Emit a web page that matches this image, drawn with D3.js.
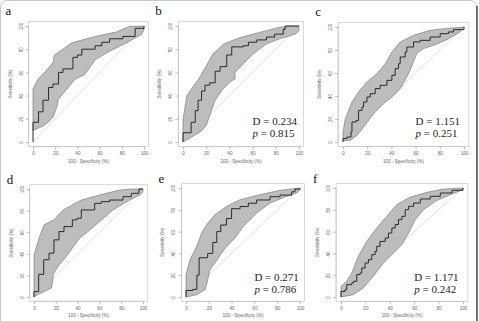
<!DOCTYPE html>
<html><head><meta charset="utf-8">
<script src="https://cdn.jsdelivr.net/npm/d3@7"></script>
<style>body{margin:0;background:#fff}svg{display:block}</style>
</head><body><svg id="c" width="479" height="321"></svg>
<script>
// ---- data (percent) ----
const panelLabels = ["a","b","c","d","e","f"];
const statD = [null, "0.234", "1.151", null, "0.271", "1.171"];
const statP = [null, "0.815", "0.251", null, "0.786", "0.242"];
const tickValues = [0, 20, 40, 60, 80, 100];
const xAxisTitle = "100 - Specificity (%)";
const yAxisTitle = "Sensitivity (%)";

const rocA = [[0,0],[0,17],[5,26],[9,36],[14,47],[18,50],[23,60],[27,63],[36,73],[40,75],[44,80],[56,83],[62,86],[69,89],[81,91],[92,98],[100,100]];
const upA = [[0,46],[4.8,54.6],[12.3,61.8],[18.3,69],[19,74.7],[25.5,79],[34.5,85.3],[48,89],[60,91.9],[75,94.8],[87,99.7],[100,100]];
const loA = [[0,10],[9.3,13.8],[13.8,17.2],[18.3,21.8],[21.9,31.6],[22.8,36.8],[30.3,45.4],[37.8,54],[46.8,58.3],[55.9,70.7],[66.4,77],[84.4,85.6],[97.9,92.8],[100,97]];

const rocB = [[0,0],[0,8],[7,17],[10.6,27],[13,36],[16,44],[19,49],[23,51],[27.7,61],[32,65],[37.7,75],[42,82],[52,83],[56.4,86],[63.6,88],[72,90.5],[79,93],[86.4,97],[88,100],[100,100]];
const upB = [[0,19],[3.3,40],[14.6,56],[26,76],[35,84.5],[49,90],[66,94.5],[83.4,99],[100,100]];
const loB = [[0,0],[7,4],[14.6,8.6],[20,14],[24,25.7],[27.7,36],[33.4,44.5],[40.6,51.7],[44.9,54.6],[44.9,60],[52,67.5],[60.6,76],[72,84.6],[83.4,89],[97,93],[100,96]];

const rocC = [[0,0],[0,3],[3.3,4.3],[6.6,8.7],[7.4,17.4],[11,18.8],[12.9,27.5],[15.7,30.4],[17,34.8],[19.8,39.1],[22.5,42],[26.6,46.4],[30.7,49.3],[34.9,49.3],[36.3,53.6],[40.4,58],[43.1,63.8],[45.9,68.1],[47.3,73.9],[51.4,78.3],[52.8,82.6],[58.3,87],[63.8,88.4],[72,91.3],[80.3,94.2],[87.2,95.7],[91.3,97.7],[100,100]];
const upC = [[0,8.7],[1.9,20.3],[7.4,34.8],[12.9,43.5],[19.8,52.2],[28,59.4],[34.9,68.1],[40.4,78.3],[47.3,87],[58.3,92.8],[72,97.1],[85.8,98.8],[100,100]];
const loC = [[0,1],[6,1.4],[11.5,5.8],[17,13],[25.3,24.6],[33.5,33.3],[40.4,39.1],[47.3,46.4],[54.2,59.4],[61,77],[66.5,81.2],[74.7,84],[85.8,89],[96.7,95.7],[100,100]];

const rocD = [[0,0],[0,5],[4.3,21],[8.9,34.5],[13.8,40.6],[18.3,52.9],[22.9,60.6],[27.5,65.2],[35.2,71.4],[39.4,72.9],[43.4,80.6],[55.7,86.7],[61.8,88.3],[69.4,89.8],[81.7,92.9],[89.3,96],[96.3,100],[100,100]];
const upD = [[0,39],[4.6,54.5],[9.2,66.8],[18.3,71.4],[26.6,80.6],[43.4,89.8],[60.2,94.5],[78.6,99],[89.3,100],[100,100]];
const loD = [[0,0],[3.7,2.2],[15.9,8.3],[17.4,16],[17.4,20.6],[22,28.3],[29.7,37.5],[37.3,48.3],[41.9,54.5],[49.5,60.6],[60.2,69.8],[72.5,80.6],[87.8,89.8],[97,94.5],[100,97.5]];

const rocE = [[0,0],[0,6],[6,7],[9.5,20],[11.5,36],[19,40],[23.5,50],[27,60],[30.5,66],[35.5,72],[40,81],[47.5,83],[54.7,86],[62,89],[73.7,92],[82.5,93.5],[92.7,96.5],[95.6,99],[100,100]];
const upE = [[0,20.5],[3.5,34.3],[9.4,46.5],[13.7,58.7],[18.1,66.4],[25.4,75.5],[35.7,83.2],[47.4,89.3],[64.9,93.9],[82.5,97.9],[100,100]];
const loE = [[0,0],[9.4,2.1],[16.7,6.7],[18.1,11.3],[21,25],[25.4,31.2],[31.3,40.4],[35.7,46.5],[43,54.1],[50.3,64.8],[62,77],[73.7,86.2],[88.3,92.3],[97.1,95.4],[100,98.5]];

const rocF = [[0,0],[0,5.2],[3.3,6.7],[4.7,11.3],[8.8,12.8],[10.1,14.4],[12.9,20.5],[15.6,22],[17,26.6],[19.7,31.2],[22.5,34.3],[25.2,38.8],[27.9,41.9],[29.3,46.5],[32,51],[36.2,54.1],[38.9,58.7],[41.7,63.3],[44.4,66.4],[47.1,71],[49.9,74],[52.6,80.1],[55.4,83.2],[59.5,86.2],[65,89.9],[73.2,92.4],[81.4,95.4],[91,97.9],[100,100]];
const upF = [[0,9.8],[4.7,14.4],[8.8,22],[14.2,37.3],[21,51],[29.3,63.3],[37.5,74],[45.7,84.7],[56.7,91.7],[70.4,96],[84,99],[100,100]];
const loF = [[0,0],[10.1,2.1],[18.3,8.3],[26.5,19],[34.8,31.2],[41.6,38.8],[49.9,48],[55.4,58.7],[60.8,70.9],[67.7,80.1],[77.3,87.8],[89.6,93.9],[100,98.5]];

const rocs = [rocA, rocB, rocC, rocD, rocE, rocF];
const uppers = [upA, upB, upC, upD, upE, upF];
const lowers = [loA, loB, loC, loD, loE, loF];

// ---- layout (pixel ranges of data 0..100) ----
const layout = [
  {x:[33,144], y:[142,26], row:0},
  {x:[183,299], y:[142,26], row:0},
  {x:[343,464], y:[142,27], row:0},
  {x:[34,143], y:[297,189], row:1},
  {x:[186,300], y:[297,188], row:1},
  {x:[341,463], y:[297,188], row:1}
];

const svg = d3.select("#c");
svg.append("rect").attr("x",0.5).attr("y",0.5).attr("width",476).attr("height",330)
  .attr("rx",6).attr("fill","#fff").attr("stroke","#c8c8c8");
svg.append("line").attr("x1",477).attr("x2",477).attr("y1",6).attr("y2",321)
  .attr("stroke","#444").attr("stroke-width",1.4);

const sans = "Liberation Sans, Arial, sans-serif";
const serif = "Liberation Serif, Times New Roman, serif";

layout.forEach((L, i) => {
  const x = d3.scaleLinear().domain([0,100]).range(L.x);
  const y = d3.scaleLinear().domain([0,100]).range(L.y);
  const g = svg.append("g");
  const bx0 = x(-4), bx1 = x(104), by0 = y(104), by1 = y(-4);

  // plot box
  g.append("rect").attr("x",bx0).attr("y",by0).attr("width",bx1-bx0).attr("height",by1-by0)
    .attr("fill","none").attr("stroke","#cfcfcf").attr("stroke-width",0.8);

  // x axis
  const xa = g.append("g").attr("transform",`translate(0,${by1})`)
    .call(d3.axisBottom(x).tickValues(tickValues).tickSize(3).tickPadding(2));
  // y axis
  const ya = g.append("g").attr("transform",`translate(${bx0},0)`)
    .call(d3.axisLeft(y).tickValues(tickValues).tickSize(3).tickPadding(2));
  [xa, ya].forEach(a => {
    a.select(".domain").attr("stroke","#bbb").attr("stroke-width",0.6);
    a.selectAll(".tick line").attr("stroke","#999").attr("stroke-width",0.6);
    a.selectAll("text").attr("font-family",sans).attr("font-size",4.6).attr("fill","#666");
  });
  ya.selectAll(".tick text").attr("transform","rotate(-90)").attr("text-anchor","middle")
    .attr("x",0).attr("y",-6).attr("dy","0");
  xa.select(".domain").attr("d",`M${x(0)},0H${x(100)}`);
  ya.select(".domain").attr("d",`M0,${y(0)}V${y(100)}`);

  // axis titles
  g.append("text").attr("x",(x(0)+x(100))/2).attr("y",by1+16)
    .attr("text-anchor","middle").attr("font-family",sans).attr("font-size",4.6).attr("fill","#666")
    .text(xAxisTitle);
  g.append("text").attr("transform",`translate(${bx0-17},${(y(0)+y(100))/2}) rotate(-90)`)
    .attr("text-anchor","middle").attr("font-family",sans).attr("font-size",4.6).attr("fill","#666")
    .text(yAxisTitle);

  // diagonal
  g.append("line").attr("x1",x(0)).attr("y1",y(0)).attr("x2",x(100)).attr("y2",y(100))
    .attr("stroke","#d8d8d8").attr("stroke-width",0.8);

  // CI band
  const band = uppers[i].concat(lowers[i].slice().reverse());
  g.append("path").attr("d", d3.line().x(d=>x(d[0])).y(d=>y(d[1]))(band) + "Z")
    .attr("fill","#bdbdbd").attr("stroke","#6e6e6e").attr("stroke-width",0.6);

  // ROC step curve
  g.append("path").attr("d", d3.line().x(d=>x(d[0])).y(d=>y(d[1])).curve(d3.curveStepAfter)(rocs[i]))
    .attr("fill","none").attr("stroke","#2a2a2a").attr("stroke-width",1.0);

  // panel letter
  g.append("text").attr("x", bx0 - 23).attr("y", L.row === 0 ? by0 - 6 : by0 - 1)
    .attr("font-family",serif).attr("font-size",13).attr("fill","#111").text(panelLabels[i]);

  // stats
  if (statD[i]) {
    const tx = x(60);
    const t1 = g.append("text").attr("x",tx).attr("y",y(15)).attr("font-family",serif)
      .attr("font-size",11).attr("fill","#222");
    t1.text("D = " + statD[i]);
    const t2 = g.append("text").attr("x",tx).attr("y",y(4)).attr("font-family",serif)
      .attr("font-size",11).attr("fill","#222");
    t2.append("tspan").attr("font-style","italic").text("p");
    t2.append("tspan").text(" = " + statP[i]);
  }
});
</script></body></html>
